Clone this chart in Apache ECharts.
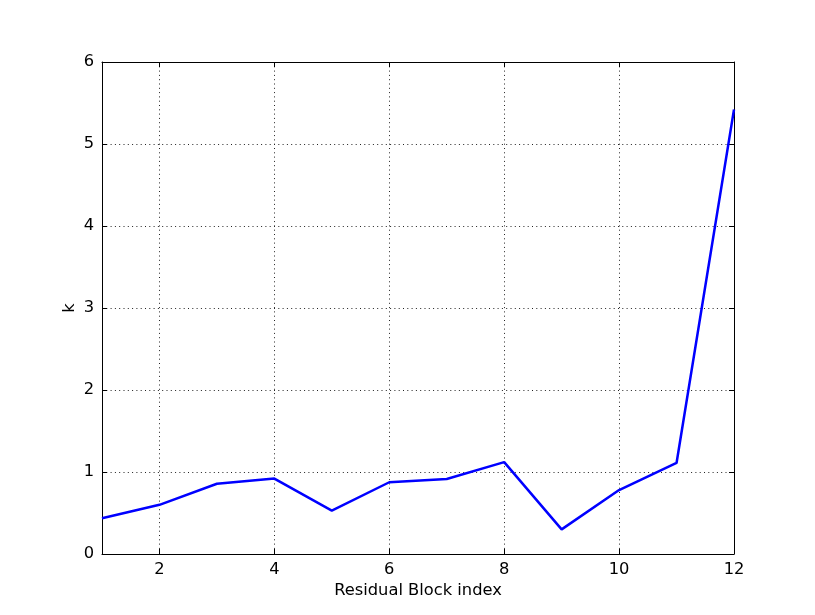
<!DOCTYPE html>
<html><head><meta charset="utf-8">
<script src="https://cdn.jsdelivr.net/npm/echarts@6/dist/echarts.min.js"></script>
<style>html,body{margin:0;padding:0;background:#fff}#c{width:815px;height:615px}</style>
</head><body><div id="c"></div>
<script>
const blockIndex = [1,2,3,4,5,6,7,8,9,10,11,12];
const kValues = [0.435,0.60,0.857,0.92,0.53,0.875,0.915,1.12,0.30,0.78,1.11,5.42];
const xTickValues = [2,4,6,8,10,12];
const yTickValues = [0,1,2,3,4,5,6];

const font = 'DejaVu Sans';
const chart = echarts.init(document.getElementById('c'), null, {renderer:'canvas'});
const tickStyle = {show:true, inside:true, length:5, lineStyle:{color:'#000', width:1}};
const gridLine = {show:true, lineStyle:{color:'#222', type:[1,3.3], width:1}};
chart.setOption({
  animation:false,
  backgroundColor:'#fff',
  grid:{left:102, right:81, top:62, bottom:61, show:false},
  xAxis:[{
    type:'value', min:1, max:12, splitNumber:6,
    name:'Residual Block index', nameLocation:'middle', nameGap:29,
    nameTextStyle:{fontFamily:font, fontSize:16.3, color:'#000'},
    axisLine:{show:true, onZero:false, lineStyle:{color:'#000', width:1}},
    axisTick:Object.assign({customValues:xTickValues}, tickStyle),
    axisLabel:{customValues:xTickValues, fontFamily:font, fontSize:16.3, color:'#000', margin:8},
    splitLine:gridLine
  },{
    type:'value', min:1, max:12, position:'top',
    axisLine:{show:true, onZero:false, lineStyle:{color:'#000', width:1}},
    axisTick:Object.assign({customValues:xTickValues}, tickStyle),
    axisLabel:{show:false}, splitLine:{show:false}
  }],
  yAxis:[{
    type:'value', min:0, max:6, interval:1,
    name:'k', nameLocation:'middle', nameGap:24, nameMoveOverlap:false,
    nameTextStyle:{fontFamily:font, fontSize:16.3, color:'#000'},
    axisLine:{show:true, onZero:false, lineStyle:{color:'#000', width:1}},
    axisTick:tickStyle,
    axisLabel:{fontFamily:font, fontSize:16.3, color:'#000', margin:8,
      formatter: v => yTickValues.includes(v) ? String(v) : ''},
    splitLine:gridLine
  },{
    type:'value', min:0, max:6, interval:1, position:'right',
    axisLine:{show:true, onZero:false, lineStyle:{color:'#000', width:1}},
    axisTick:tickStyle, axisLabel:{show:false}, splitLine:{show:false}
  }],
  series:[{
    type:'line', xAxisIndex:0, yAxisIndex:0,
    data: blockIndex.map((x,i)=>[x,kValues[i]]),
    showSymbol:false, symbol:'none',
    lineStyle:{color:'#0000ff', width:2.5},
    itemStyle:{color:'#0000ff'}
  }]
});
</script></body></html>
